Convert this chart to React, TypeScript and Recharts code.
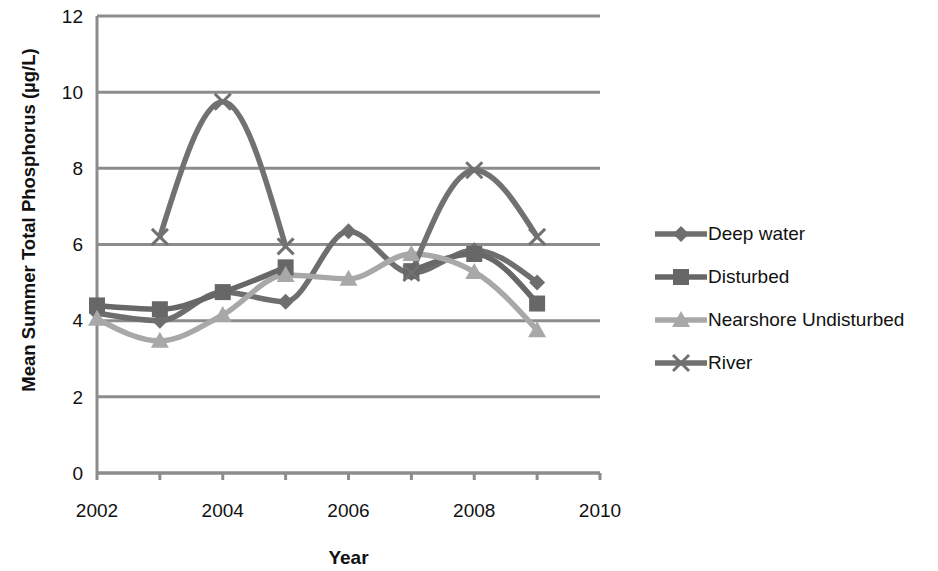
import { LineChart, Line, XAxis, YAxis, CartesianGrid, Label } from "recharts";

const years = [2002, 2003, 2004, 2005, 2006, 2007, 2008, 2009];
const deepWater = [4.2, 4.0, 4.75, 4.5, 6.35, 5.25, 5.85, 5.0];
const disturbed = [4.4, 4.3, 4.75, 5.4, null, 5.3, 5.75, 4.45];
const nearshore = [4.05, 3.47, 4.15, 5.2, 5.1, 5.75, 5.28, 3.75];
const river = [null, 6.2, 9.75, 5.95, null, 5.25, 7.95, 6.2];

const xTicks = [2002, 2003, 2004, 2005, 2006, 2007, 2008, 2009, 2010];
const yTicks = [0, 2, 4, 6, 8, 10, 12];

const data = years.map((year, i) => ({
  year,
  deep: deepWater[i],
  disturbed: disturbed[i],
  nearshore: nearshore[i],
  river: river[i],
}));

const GRID = "#8c8c8c";
const TEXT = "#111";
const FONT = "'Liberation Sans', Arial, sans-serif";

type MarkerKind = "diamond" | "square" | "triangle" | "cross";

const series: { key: string; name: string; color: string; marker: MarkerKind }[] = [
  { key: "deep", name: "Deep water", color: "#6e6e6e", marker: "diamond" },
  { key: "disturbed", name: "Disturbed", color: "#676767", marker: "square" },
  { key: "nearshore", name: "Nearshore Undisturbed", color: "#a8a8a8", marker: "triangle" },
  { key: "river", name: "River", color: "#717171", marker: "cross" },
];

function Marker({ kind, cx, cy, color }: { kind: MarkerKind; cx: number; cy: number; color: string }) {
  if (kind === "diamond") {
    return <polygon points={`${cx},${cy - 8} ${cx + 8},${cy} ${cx},${cy + 8} ${cx - 8},${cy}`} fill={color} />;
  }
  if (kind === "square") {
    return <rect x={cx - 8} y={cy - 8} width={16} height={16} fill={color} />;
  }
  if (kind === "triangle") {
    return <polygon points={`${cx},${cy - 9} ${cx + 9},${cy + 7} ${cx - 9},${cy + 7}`} fill={color} />;
  }
  return (
    <g stroke={color} strokeWidth={3}>
      <line x1={cx - 8} y1={cy - 8} x2={cx + 8} y2={cy + 8} />
      <line x1={cx - 8} y1={cy + 8} x2={cx + 8} y2={cy - 8} />
    </g>
  );
}

function makeDot(kind: MarkerKind, color: string, key: string) {
  return (p: any) => {
    if (p.cx == null || p.cy == null || p.value == null) return <g key={`${key}-${p.index}`} />;
    return (
      <g key={`${key}-${p.index}`}>
        <Marker kind={kind} cx={p.cx} cy={p.cy} color={color} />
      </g>
    );
  };
}

export default function App() {
  return (
    <div style={{ position: "absolute", left: 0, top: 0, width: 938, height: 571, background: "#fff" }}>
      <LineChart width={938} height={571} data={data} margin={{ top: 16, right: 338, bottom: 0, left: 0 }}>
        <CartesianGrid vertical={false} stroke={GRID} strokeWidth={3} />
        <XAxis
          dataKey="year"
          type="number"
          domain={[2002, 2010]}
          ticks={xTicks}
          interval={0}
          height={98}
          axisLine={{ stroke: GRID, strokeWidth: 3 }}
          tickLine={{ stroke: GRID, strokeWidth: 3 }}
          tickSize={7}
          tickMargin={24}
          tickFormatter={(v: number) => (v % 2 === 0 ? String(v) : "")}
          tick={{ fill: TEXT, fontSize: 19, fontFamily: FONT }}
        >
          <Label
            value="Year"
            position="insideBottom"
            offset={7}
            style={{ fill: TEXT, fontSize: 19, fontWeight: 700, fontFamily: FONT }}
          />
        </XAxis>
        <YAxis
          domain={[0, 12]}
          ticks={yTicks}
          width={97}
          axisLine={{ stroke: GRID, strokeWidth: 3 }}
          tickLine={false}
          tickSize={0}
          tickMargin={14}
          tick={{ fill: TEXT, fontSize: 19, fontFamily: FONT }}
        >
          <Label
            content={() => (
              <text
                x={35}
                y={220}
                transform="rotate(-90 35 220)"
                textAnchor="middle"
                fill={TEXT}
                fontSize={18.5}
                fontWeight={700}
                fontFamily={FONT}
              >
                Mean Summer Total Phosphorus (µg/L)
              </text>
            )}
          />
        </YAxis>
        {series.map((s) => (
          <Line
            key={s.key}
            type="monotone"
            dataKey={s.key}
            name={s.name}
            stroke={s.color}
            strokeWidth={5.5}
            dot={makeDot(s.marker, s.color, s.key)}
            activeDot={false}
            isAnimationActive={false}
          />
        ))}
      </LineChart>
      <div style={{ position: "absolute", left: 655, top: 212, fontFamily: FONT, fontSize: 19, color: TEXT }}>
        {series.map((s) => (
          <div key={s.key} style={{ display: "flex", alignItems: "center", height: 43 }}>
            <svg width={52} height={24} style={{ marginRight: 1 }}>
              <line x1={0} y1={12} x2={52} y2={12} stroke={s.color} strokeWidth={5.5} strokeLinecap="round" />
              <Marker kind={s.marker} cx={26} cy={12} color={s.color} />
            </svg>
            <span>{s.name}</span>
          </div>
        ))}
      </div>
    </div>
  );
}
